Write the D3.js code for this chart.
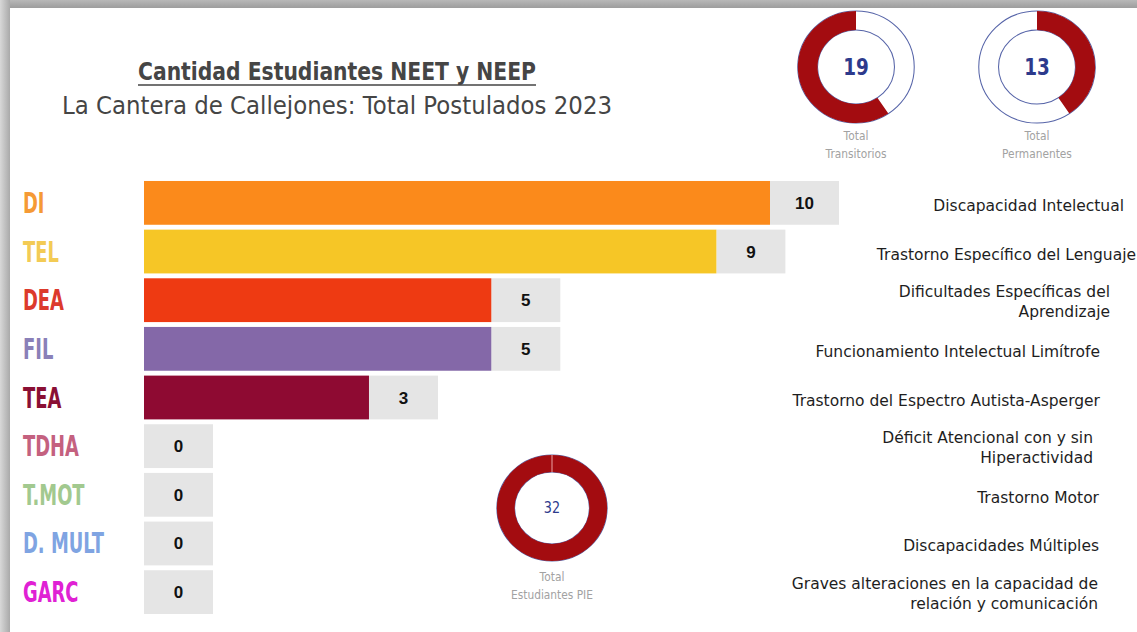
<!DOCTYPE html>
<html>
<head>
<meta charset="utf-8">
<script src="https://cdn.jsdelivr.net/npm/d3@7"></script>
<style>
  html, body { margin: 0; padding: 0; background: #fff; }
  svg { display: block; }
</style>
</head>
<body>
<svg id="chart" width="1137" height="632"></svg>
<script>
// ---------- DATA ----------
const categories = ["DI", "TEL", "DEA", "FIL", "TEA", "TDHA", "T.MOT", "D. MULT", "GARC"];
const values = [10, 9, 5, 5, 3, 0, 0, 0, 0];
const descriptions = [
  ["Discapacidad Intelectual"],
  ["Trastorno Específico del Lenguaje"],
  ["Dificultades Específicas del", "Aprendizaje"],
  ["Funcionamiento Intelectual Limítrofe"],
  ["Trastorno del Espectro Autista-Asperger"],
  ["Déficit Atencional con y sin", "Hiperactividad"],
  ["Trastorno Motor"],
  ["Discapacidades Múltiples"],
  ["Graves alteraciones en la capacidad de", "relación y comunicación"]
];
const donutLabels = [["Total", "Transitorios"], ["Total", "Permanentes"], ["Total", "Estudiantes PIE"]];
const donutValues = [19, 13, 32];
const donutTotal = 32;
const titleText = "Cantidad Estudiantes NEET y NEEP";
const subtitleText = "La Cantera de Callejones: Total Postulados 2023";

// ---------- STYLE / LAYOUT ----------
const barColors = ["#fb8a1b", "#f6c626", "#ee3a12", "#8468a8", "#8e0a32", "#c0607f", "#9cc48c", "#7ea4e4", "#e024d2"];
const labelColors = ["#f59a35", "#f3cb55", "#dc3a2c", "#8a80b8", "#8a0f34", "#c4617f", "#a2c98f", "#7fa4e2", "#e021d4"];
const descRight = [1124, 1136, 1110, 1100, 1100, 1093, 1099, 1099, 1098];
const red = "#a30c10";
const navy = "#2d3a8c";

const svg = d3.select("#chart");

// frame / shadow
const defs = svg.append("defs");
const gTop = defs.append("linearGradient").attr("id", "gTop").attr("x1", 0).attr("y1", 0).attr("x2", 0).attr("y2", 1);
gTop.append("stop").attr("offset", "0%").attr("stop-color", "#b8b8b8");
gTop.append("stop").attr("offset", "100%").attr("stop-color", "#9d9d9d");
const gLeft = defs.append("linearGradient").attr("id", "gLeft").attr("x1", 0).attr("y1", 0).attr("x2", 1).attr("y2", 0);
gLeft.append("stop").attr("offset", "0%").attr("stop-color", "#d8d8d8");
gLeft.append("stop").attr("offset", "100%").attr("stop-color", "#a9a9a9");

svg.append("rect").attr("x", 0).attr("y", 0).attr("width", 1137).attr("height", 632).attr("fill", "#d0d0d0");
svg.append("rect").attr("x", 0).attr("y", 0).attr("width", 1137).attr("height", 8).attr("fill", "url(#gTop)");
svg.append("rect").attr("x", 0).attr("y", 0).attr("width", 10).attr("height", 632).attr("fill", "url(#gLeft)");
svg.append("rect").attr("x", 10).attr("y", 8).attr("width", 1127).attr("height", 624).attr("fill", "#ffffff");

// ---------- TITLE ----------
const narrowFont = "'DejaVu Sans', sans-serif";
svg.append("text")
  .attr("x", 138).attr("y", 80)
  .attr("textLength", 398).attr("lengthAdjust", "spacingAndGlyphs")
  .attr("font-family", narrowFont).attr("font-weight", "bold").attr("font-size", 25)
  .attr("fill", "#454545").text(titleText);
svg.append("line").attr("x1", 138).attr("x2", 536).attr("y1", 85).attr("y2", 85)
  .attr("stroke", "#454545").attr("stroke-width", 1.6);
svg.append("text")
  .attr("x", 62).attr("y", 114)
  .attr("textLength", 550).attr("lengthAdjust", "spacingAndGlyphs")
  .attr("font-family", narrowFont).attr("font-size", 25)
  .attr("fill", "#454545").text(subtitleText);

// ---------- BARS ----------
const y = d3.scaleBand().domain(categories).range([180, 615]).paddingInner(0.1).paddingOuter(0.02);
const x = d3.scalePow().exponent(0.85).domain([0, 10]).range([144, 770]);
const boxW = 69;

const rows = svg.append("g").selectAll("g").data(categories).join("g");

rows.append("rect")
  .attr("x", (d, i) => x(values[i]))
  .attr("y", d => y(d))
  .attr("width", boxW)
  .attr("height", y.bandwidth())
  .attr("fill", "#e5e5e5");

rows.append("rect")
  .attr("x", x(0))
  .attr("y", d => y(d))
  .attr("width", (d, i) => x(values[i]) - x(0))
  .attr("height", y.bandwidth())
  .attr("fill", (d, i) => barColors[i]);

rows.append("text")
  .attr("x", (d, i) => x(values[i]) + boxW / 2)
  .attr("y", d => y(d) + y.bandwidth() / 2 + 6)
  .attr("text-anchor", "middle")
  .attr("font-family", "'Liberation Sans', Arial, sans-serif")
  .attr("font-weight", "bold").attr("font-size", 17)
  .attr("fill", "#111")
  .text((d, i) => values[i]);

// category labels (condensed by horizontal scale)
rows.append("text")
  .attr("transform", d => `translate(23,${y(d) + y.bandwidth() / 2 + 10}) scale(0.64,1)`)
  .attr("font-family", narrowFont)
  .attr("font-weight", "bold").attr("font-size", 28)
  .attr("fill", (d, i) => labelColors[i])
  .text(d => d);

// descriptions
rows.each(function (d, i) {
  const lines = descriptions[i];
  const cy = y(d) + y.bandwidth() / 2;
  const t = d3.select(this).append("text")
    .attr("text-anchor", "end")
    .attr("font-family", "'DejaVu Sans', sans-serif")
    .attr("font-size", 15.5)
    .attr("fill", "#1e1e1e");
  lines.forEach((ln, k) => {
    const yy = lines.length === 1 ? cy + 8 : cy - 3 + k * 20;
    t.append("tspan").attr("x", descRight[i]).attr("y", yy).text(ln);
  });
});

// ---------- DONUTS ----------
const angle = d3.scaleLinear().domain([0, donutTotal]).range([0, 2 * Math.PI]);
const donutPos = [
  { cx: 856, cy: 67, r: 56, ir: 37, fs: 21, bold: true, ly: 140 },
  { cx: 1037, cy: 67, r: 56, ir: 37, fs: 21, bold: true, ly: 140 },
  { cx: 552, cy: 508, r: 53, ir: 36, fs: 14, bold: false, ly: 581 }
];

donutValues.forEach((v, i) => {
  const p = donutPos[i];
  const g = svg.append("g").attr("transform", `translate(${p.cx},${p.cy}) scale(1.04,1)`);
  const arc = d3.arc().innerRadius(p.ir).outerRadius(p.r);
  g.append("circle").attr("r", p.r).attr("fill", "none").attr("stroke", "#5664a8").attr("stroke-width", 1);
  g.append("circle").attr("r", p.ir).attr("fill", "none").attr("stroke", "#5664a8").attr("stroke-width", 1);
  let start, end;
  if (i === 0) { start = 2 * Math.PI - angle(v); end = 2 * Math.PI; }
  else { start = 0; end = angle(v); }
  g.append("path").attr("d", arc({ startAngle: start, endAngle: end })).attr("fill", red);
  if (i === 2) {
    g.append("line").attr("x1", 0).attr("x2", 0).attr("y1", -p.r).attr("y2", -p.ir)
      .attr("stroke", "#e9a0a0").attr("stroke-width", 1);
  }
  svg.append("text")
    .attr("transform", `translate(${p.cx},${p.cy + p.fs * 0.36}) scale(0.8,1)`)
    .attr("text-anchor", "middle")
    .attr("font-family", narrowFont)
    .attr("font-weight", p.bold ? "bold" : "normal")
    .attr("font-size", p.fs + 2)
    .attr("fill", navy)
    .text(v);
  donutLabels[i].forEach((ln, k) => {
    svg.append("text")
      .attr("transform", `translate(${p.cx},${p.ly + k * 18}) scale(0.85,1)`)
      .attr("text-anchor", "middle")
      .attr("font-family", narrowFont)
      .attr("font-size", 12.5)
      .attr("fill", "#a2a2a2")
      .text(ln);
  });
});
</script>
</body>
</html>
